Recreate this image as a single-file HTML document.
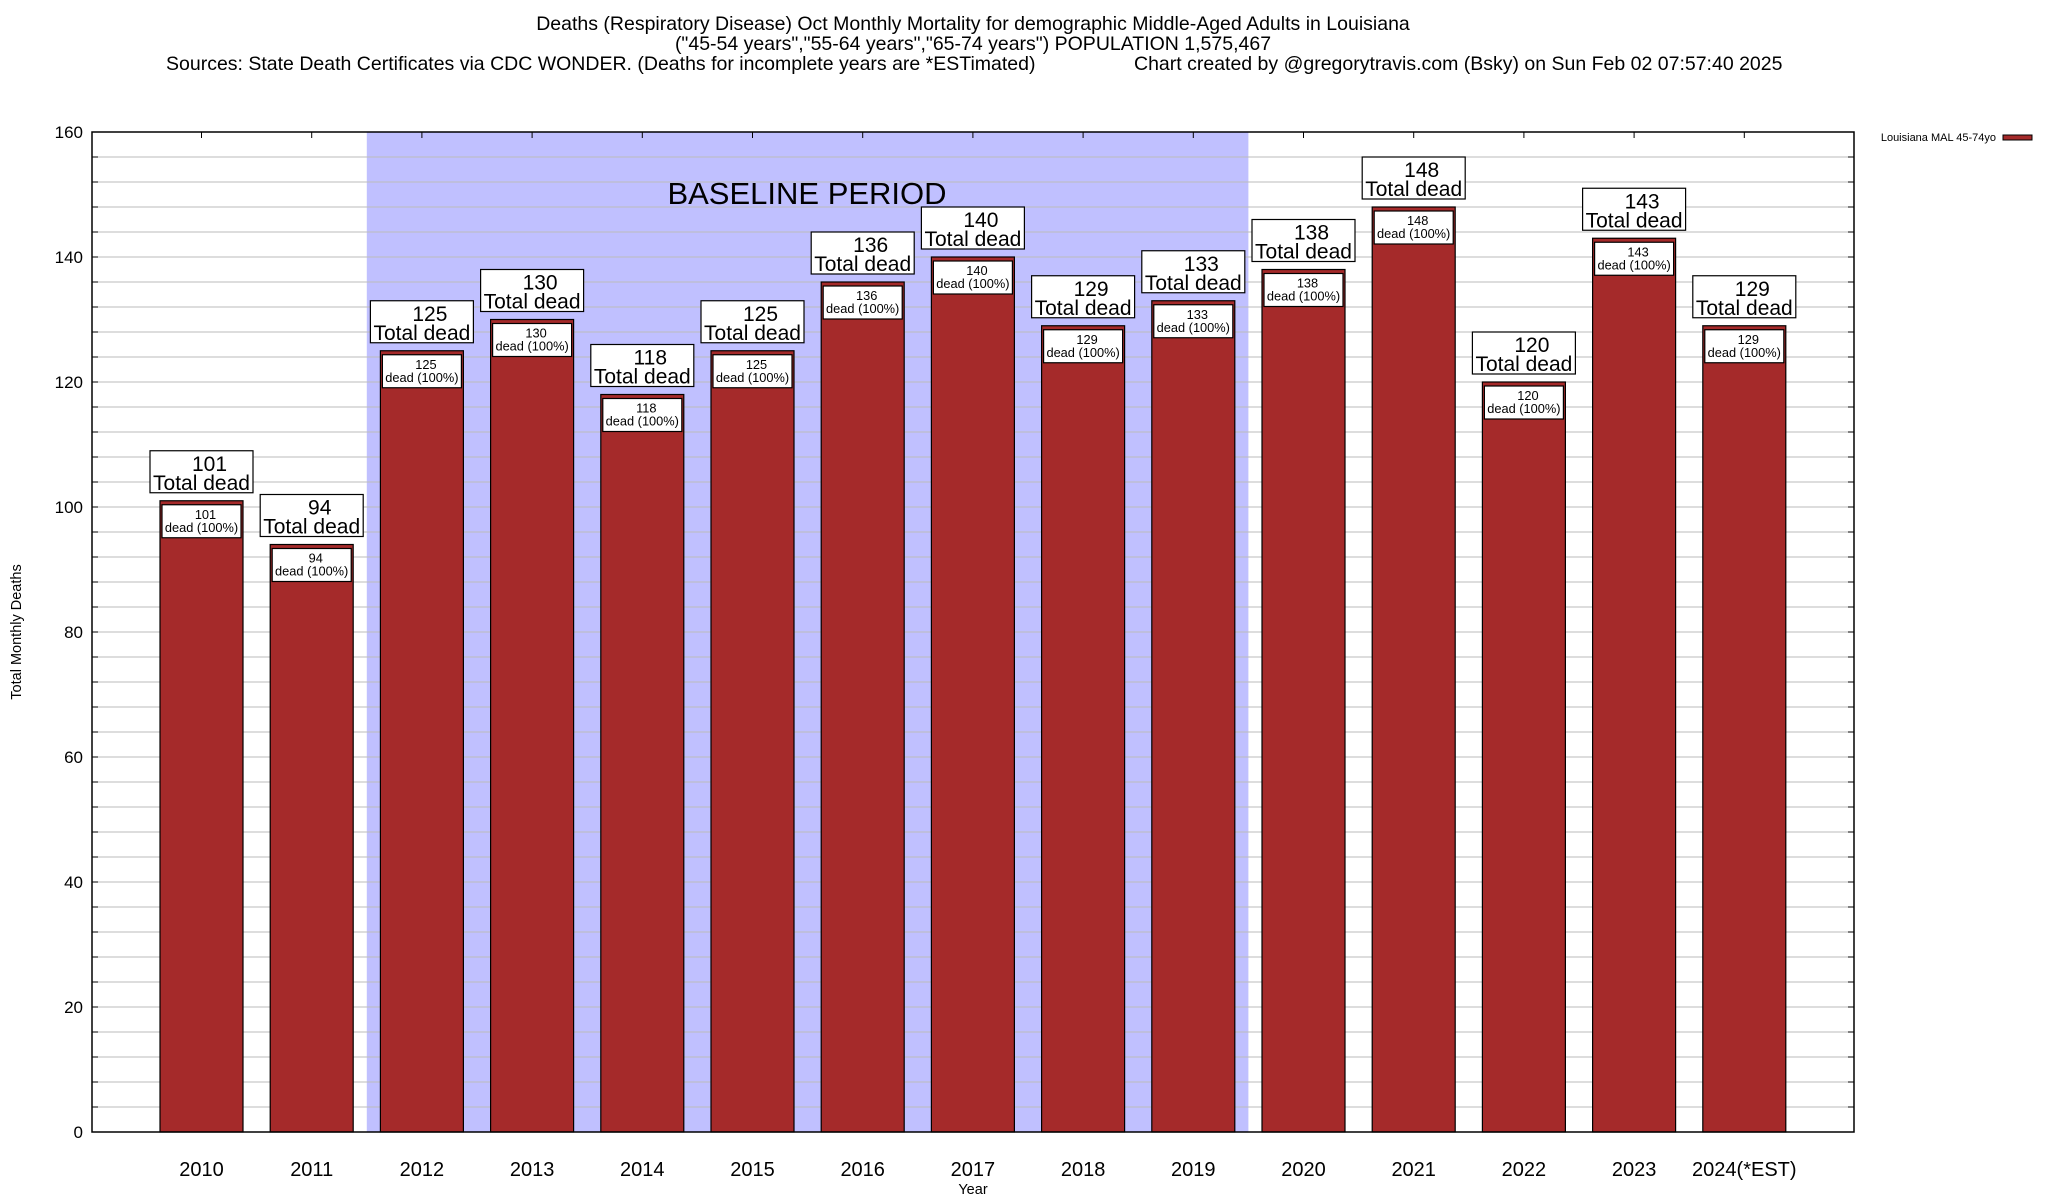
<!DOCTYPE html>
<html><head><meta charset="utf-8"><style>
html,body{margin:0;padding:0;background:#fff}
svg{display:block;font-family:"Liberation Sans",sans-serif}
</style></head><body>
<svg id="chart" width="2048" height="1200" viewBox="0 0 2048 1200" xmlns="http://www.w3.org/2000/svg">
<g font-size="19.5" fill="#000">
<text x="973" y="30" text-anchor="middle">Deaths (Respiratory Disease) Oct Monthly Mortality for demographic Middle-Aged Adults in Louisiana</text>
<text x="973" y="50" text-anchor="middle">("45-54 years","55-64 years","65-74 years") POPULATION 1,575,467</text>
<text x="166" y="70">Sources: State Death Certificates via CDC WONDER. (Deaths for incomplete years are *ESTimated)</text>
<text x="1134" y="70">Chart created by @gregorytravis.com (Bsky) on Sun Feb 02 07:57:40 2025</text>
</g>
<g id="plot"></g>
<text x="0" y="0" font-size="14.5" text-anchor="middle" transform="translate(21,632) rotate(-90)">Total Monthly Deaths</text>
<text x="973" y="1194" font-size="14.5" text-anchor="middle">Year</text>
<g>
<text x="1996" y="141" font-size="11" text-anchor="end">Louisiana MAL 45-74yo</text>
<rect x="2003" y="135" width="29" height="5" fill="#a52a2a" stroke="#000" stroke-width="1"/>
</g>
</svg>
<script>
const categories = ["2010","2011","2012","2013","2014","2015","2016","2017","2018","2019","2020","2021","2022","2023","2024(*EST)"];
const deaths = [101,94,125,130,118,125,136,140,129,133,138,148,120,143,129];
const yTicks = [0,20,40,60,80,100,120,140,160];
const baselineStart = 2; const baselineEnd = 9;

const NS="http://www.w3.org/2000/svg";
const L=92,R=1854,T=132,B=1132,yMax=160;
const step=110.2, c0=201.5, bw=83;
const xC=i=>c0+step*i;
const yS=v=>B-(v/yMax)*(B-T);
const plot=document.getElementById('plot');
function mk(tag,attrs,parent){const e=document.createElementNS(NS,tag);for(const k in attrs)e.setAttribute(k,attrs[k]);(parent||plot).appendChild(e);return e;}
const bg=mk('rect',{x:L,y:T,width:R-L,height:B-T,fill:'#fff'});


const bx0=(xC(baselineStart)+xC(baselineStart-1))/2, bx1=(xC(baselineEnd)+xC(baselineEnd+1))/2;
const band=mk('rect',{x:bx0,y:T,width:bx1-bx0,height:B-T,fill:'#c0c0ff'});


for(let v=4;v<yMax;v+=4){
 const g=mk('line',{x1:L,x2:R,y1:yS(v),y2:yS(v),stroke:'#bbb','stroke-width':1});
 
 
 mk('line',{x1:L,x2:L+6,y1:yS(v),y2:yS(v),stroke:'#000'});
 mk('line',{x1:R-6,x2:R,y1:yS(v),y2:yS(v),stroke:'#000'});
}
const bl=mk('text',{x:807,y:204,'font-size':31,'text-anchor':'middle'});
bl.textContent='BASELINE PERIOD';


yTicks.forEach(v=>{const t=mk('text',{x:83,y:yS(v)+6,'font-size':17,'text-anchor':'end'});t.textContent=v;
 
 });
categories.forEach((c,i)=>{
 const x=xC(i), v=deaths[i], y=yS(v);
 const b=mk('rect',{x:x-bw/2,y:y,width:bw,height:B-y,fill:'#a52a2a',stroke:'#000','stroke-width':1.2});
 
 
 mk('line',{x1:x,x2:x,y1:T,y2:T+6,stroke:'#000'});
 const ib=mk('rect',{x:x-bw/2+2,y:y+4,width:bw-4,height:33,fill:'#fff',stroke:'#000','stroke-width':1.2});
 
 
 const t1=mk('text',{x:x+4,y:y+18,'font-size':12.8,'text-anchor':'middle'});t1.textContent=v;
 const t2=mk('text',{x:x,y:y+31,'font-size':12.8,'text-anchor':'middle'});t2.textContent='dead (100%)';
 const ob=mk('rect',{x:x-51.5,y:y-50,width:103,height:42,fill:'#fff',stroke:'#000','stroke-width':1.2});
 
 
 const t3=mk('text',{x:x+8,y:y-30,'font-size':21,'text-anchor':'middle'});t3.textContent=v;
 const t4=mk('text',{x:x,y:y-11,'font-size':21,'text-anchor':'middle'});t4.textContent='Total dead';
 const xl=mk('text',{x:x,y:1176,'font-size':20,'text-anchor':'middle'});xl.textContent=c;
 
 
});
const fr=mk('rect',{x:L,y:T,width:R-L,height:B-T,fill:'none',stroke:'#000','stroke-width':1.5});


</script>
</body></html>
